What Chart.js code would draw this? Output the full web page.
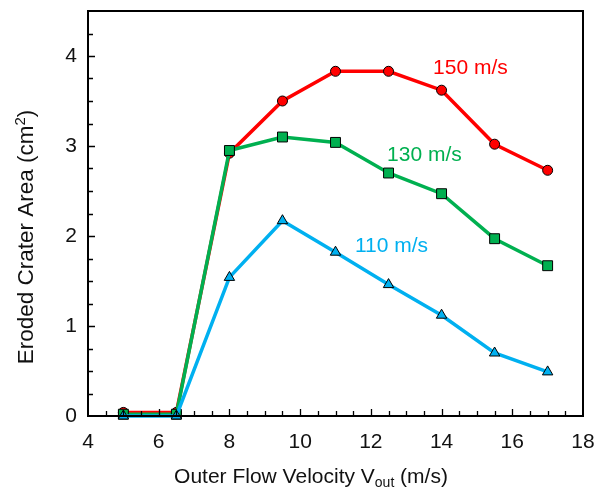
<!DOCTYPE html>
<html>
<head>
<meta charset="utf-8">
<script src="https://cdn.jsdelivr.net/npm/chart.js@4.4.0/dist/chart.umd.min.js"></script>
<style>
  html, body { margin: 0; padding: 0; background: #fff; }
  #wrap { width: 595px; height: 495px; }
</style>
</head>
<body>
<div id="wrap"><canvas id="chart" width="595" height="495"></canvas></div>
<script>
// outer flow velocity (m/s)
const velocities = [5, 6.5, 8, 9.5, 11, 12.5, 14, 15.5, 17];

// eroded crater area (cm^2) for each jet speed
const area150 = [0.04, 0.04, 2.92, 3.50, 3.83, 3.83, 3.62, 3.02, 2.73];
const area130 = [0.02, 0.02, 2.95, 3.10, 3.04, 2.70, 2.47, 1.97, 1.67];
const area110 = [0.00, 0.00, 1.54, 2.17, 1.82, 1.46, 1.12, 0.70, 0.49];

const seriesLabels = ['150 m/s', '130 m/s', '110 m/s'];
const xTicks = [4, 6, 8, 10, 12, 14, 16, 18];
const yTicks = [0, 1, 2, 3, 4];

const FONT = '"Liberation Sans", Arial, sans-serif';
const FS = 21;

const RED = '#ff0000';
const GREEN = '#00b050';
const BLUE = '#00b0f0';

function toPoints(ys) {
  return velocities.map((x, i) => ({ x: x, y: ys[i] }));
}

function makeSet(label, ys, color, style, radius, order) {
  return {
    label: label,
    data: toPoints(ys),
    borderColor: color,
    backgroundColor: color,
    borderWidth: 3.5,
    pointStyle: style,
    pointRadius: radius,
    pointBorderColor: '#000',
    pointBorderWidth: 1,
    pointBackgroundColor: color,
    tension: 0,
    clip: false,
    order: order
  };
}

// where the series names sit, in data units (left edge, vertical centre)
const seriesNotes = [
  { text: seriesLabels[0], x: 13.76, y: 3.86, color: RED },
  { text: seriesLabels[1], x: 12.46, y: 2.90, color: GREEN },
  { text: seriesLabels[2], x: 11.55, y: 1.89, color: BLUE }
];

// frame, inward tick marks, titles with sub/superscripts, series names
const decor = {
  id: 'decor',
  afterDatasetsDraw(chart) {
    const { ctx, chartArea: a, scales: { x, y } } = chart;
    ctx.save();
    ctx.strokeStyle = '#000';
    ctx.lineWidth = 2;
    ctx.strokeRect(a.left, a.top, a.right - a.left, a.bottom - a.top);

    ctx.lineWidth = 1.3;
    ctx.beginPath();
    for (let v = x.min + 0.5; v < x.max; v += 0.5) {
      const px = Math.round(x.getPixelForValue(v)) + 0.5;
      const len = (v % 2 === 0) ? 7 : 5;
      ctx.moveTo(px, a.bottom);
      ctx.lineTo(px, a.bottom - len);
    }
    for (let v = y.min + 0.25; v < y.max; v += 0.25) {
      const py = Math.round(y.getPixelForValue(v)) + 0.5;
      const len = (Math.abs(v - Math.round(v)) < 1e-6) ? 7 : 5;
      ctx.moveTo(a.left, py);
      ctx.lineTo(a.left + len, py);
    }
    ctx.stroke();

    ctx.font = FS + 'px ' + FONT;
    ctx.textBaseline = 'middle';
    ctx.textAlign = 'left';
    seriesNotes.forEach(n => {
      ctx.fillStyle = n.color;
      ctx.fillText(n.text, x.getPixelForValue(n.x), y.getPixelForValue(n.y));
    });
    ctx.restore();
  },
  afterDraw(chart) {
    const { ctx, chartArea: a } = chart;
    ctx.save();
    ctx.fillStyle = '#111';
    ctx.textBaseline = 'alphabetic';
    ctx.textAlign = 'left';

    // x title: Outer Flow Velocity V_out (m/s)
    const big = FS + 'px ' + FONT;
    const small = Math.round(FS * 0.65) + 'px ' + FONT;
    const p1 = 'Outer Flow Velocity V', p2 = 'out', p3 = ' (m/s)';
    ctx.font = big; const w1 = ctx.measureText(p1).width, w3 = ctx.measureText(p3).width;
    ctx.font = small; const w2 = ctx.measureText(p2).width;
    let xs = 311 - (w1 + w2 + w3) / 2;
    const base = a.bottom + 67;
    ctx.font = big; ctx.fillText(p1, xs, base);
    ctx.font = small; ctx.fillText(p2, xs + w1, base + 4);
    ctx.font = big; ctx.fillText(p3, xs + w1 + w2, base);

    // y title: Eroded Crater Area (cm²), a touch larger than the rest
    const yBig = '22.5px ' + FONT;
    const ySmall = '15px ' + FONT;
    ctx.translate(33, 237);
    ctx.rotate(-Math.PI / 2);
    const q1 = 'Eroded Crater Area (cm', q2 = '2', q3 = ')';
    ctx.font = yBig; const v1 = ctx.measureText(q1).width, v3 = ctx.measureText(q3).width;
    ctx.font = ySmall; const v2 = ctx.measureText(q2).width;
    let ys = -(v1 + v2 + v3) / 2;
    ctx.font = yBig; ctx.fillText(q1, ys, 0);
    ctx.font = ySmall; ctx.fillText(q2, ys + v1, -8);
    ctx.font = yBig; ctx.fillText(q3, ys + v1 + v2, 0);
    ctx.restore();
  }
};

const ctx = document.getElementById('chart').getContext('2d');
new Chart(ctx, {
  type: 'line',
  data: {
    datasets: [
      makeSet(seriesLabels[0], area150, RED, 'circle', 5, 3),
      makeSet(seriesLabels[1], area130, GREEN, 'rect', 7, 2),
      makeSet(seriesLabels[2], area110, BLUE, 'triangle', 6, 1)
    ]
  },
  options: {
    responsive: false,
    animation: false,
    layout: { padding: { top: 11, right: 12, left: 0, bottom: 0 } },
    plugins: { legend: { display: false }, tooltip: { enabled: false } },
    scales: {
      x: {
        type: 'linear',
        min: 4, max: 18,
        afterBuildTicks: s => { s.ticks = xTicks.map(v => ({ value: v })); },
        afterFit: s => { s.height = 79; s.paddingLeft = 0; s.paddingRight = 0; },
        grid: { display: false, drawTicks: false },
        border: { display: false },
        ticks: { color: '#111', font: { family: FONT, size: FS }, padding: 14, maxRotation: 0 }
      },
      y: {
        type: 'linear',
        min: 0, max: 4.5,
        afterBuildTicks: s => { s.ticks = yTicks.map(v => ({ value: v })); },
        afterFit: s => { s.width = 88; s.paddingTop = 0; s.paddingBottom = 0; },
        grid: { display: false, drawTicks: false },
        border: { display: false },
        ticks: { color: '#111', font: { family: FONT, size: FS }, padding: 11 }
      }
    }
  },
  plugins: [decor]
});
</script>
</body>
</html>
